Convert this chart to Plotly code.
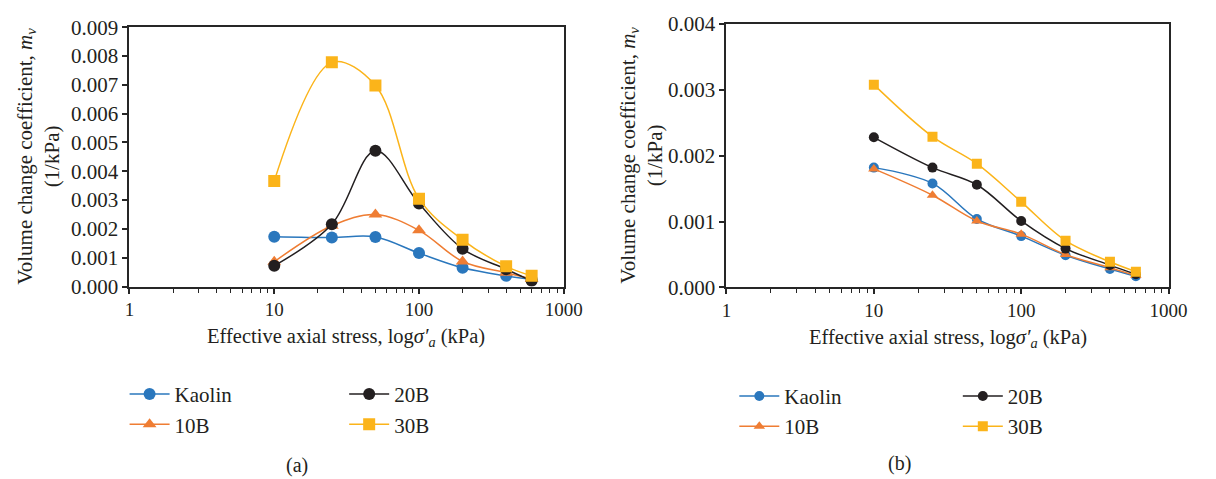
import plotly.graph_objects as go

stress = [10, 25, 50, 100, 200, 400, 600]
series_names = ["Kaolin", "10B", "20B", "30B"]

# Panel (a)
a_kaolin = [0.00173, 0.00170, 0.00172, 0.00116, 0.00065, 0.00037, 0.00025]
a_10b = [0.00086, 0.00211, 0.00250, 0.00195, 0.00087, 0.00048, 0.00026]
a_20b = [0.00072, 0.00216, 0.00471, 0.00288, 0.00131, 0.00060, 0.00020]
a_30b = [0.00366, 0.00778, 0.00698, 0.00305, 0.00162, 0.00070, 0.00037]

# Panel (b)
b_kaolin = [0.00182, 0.00158, 0.00104, 0.00078, 0.00049, 0.00028, 0.00017]
b_10b = [0.00180, 0.00140, 0.00101, 0.00081, 0.00050, 0.00030, 0.00018]
b_20b = [0.00228, 0.00182, 0.00156, 0.00101, 0.00059, 0.00034, 0.00020]
b_30b = [0.00308, 0.00229, 0.00188, 0.00130, 0.00071, 0.00039, 0.00024]

x_ticks = [1, 10, 100, 1000]
a_yticks = [0.000, 0.001, 0.002, 0.003, 0.004, 0.005, 0.006, 0.007, 0.008, 0.009]
b_yticks = [0.000, 0.001, 0.002, 0.003, 0.004]

colors = ["#2a77bd", "#ef7d33", "#231f20", "#fbb41a"]
symbols = ["circle", "triangle-up", "circle", "square"]

FONT = "Liberation Serif"
AX = "#262626"
TXT = "#231f20"

fig = go.Figure()

panels = [
    ("x", "y", [a_kaolin, a_10b, a_20b, a_30b], 12, ["legend", "legend", "legend2", "legend2"]),
    ("x2", "y2", [b_kaolin, b_10b, b_20b, b_30b], 10, ["legend3", "legend3", "legend4", "legend4"]),
]
for xa, ya, data, msize, legs in panels:
    for name, vals, col, sym, leg in zip(series_names, data, colors, symbols, legs):
        fig.add_trace(go.Scatter(
            x=stress, y=vals, name=name, mode="lines+markers",
            line=dict(color=col, width=1.5, shape="spline", smoothing=1.0),
            marker=dict(color=col, symbol=sym, size=msize),
            xaxis=xa, yaxis=ya, legend=leg,
        ))

W, H = 1216, 479

def xdom(l, r):
    return [l / W, r / W]

def ydom(t, b):
    return [1 - b / H, 1 - t / H]

xcommon = dict(
    type="log", range=[0, 3], tickvals=x_ticks, ticktext=[str(v) for v in x_ticks],
    showline=True, linecolor=AX, linewidth=2, mirror=True,
    ticks="outside", ticklen=5, tickwidth=1.5, tickcolor=AX,
    minor=dict(ticks="outside", ticklen=4, tickwidth=1.2, tickcolor=AX, dtick="D1"),
    showgrid=False, zeroline=False,
    tickfont=dict(family=FONT, size=19, color=TXT),
)
ycommon = dict(
    showline=True, linecolor=AX, linewidth=2, mirror=True,
    ticks="outside", ticklen=5, tickwidth=1.5, tickcolor=AX,
    showgrid=False, zeroline=False, tickformat=".3f",
    tickfont=dict(family=FONT, size=21, color=TXT),
)

fig.update_layout(
    width=W, height=H, margin=dict(l=0, r=0, t=0, b=0),
    paper_bgcolor="white", plot_bgcolor="white",
    font=dict(family=FONT, color=TXT),
    xaxis=dict(domain=xdom(127, 570), anchor="y", **xcommon),
    yaxis=dict(domain=ydom(16, 289), anchor="x", range=[0, 0.009], tickvals=a_yticks, **ycommon),
    xaxis2=dict(domain=xdom(736, 1187), anchor="y2", **xcommon),
    yaxis2=dict(domain=ydom(12.7, 290), anchor="x2", range=[0, 0.004], tickvals=b_yticks, **ycommon),
)

legfont = dict(family=FONT, size=21, color=TXT)
for key, lx, ly in [("legend", 122, 381), ("legend2", 346, 381), ("legend3", 744, 383), ("legend4", 972, 383)]:
    fig.update_layout(**{key: dict(
        x=lx / W, y=1 - ly / H, xanchor="left", yanchor="top",
        orientation="v", font=legfont, bgcolor="rgba(0,0,0,0)",
        tracegroupgap=0, itemwidth=40,
    )})

ann = []
ytitle = "Volume change coefficient, <i>m</i><sub><i>v</i></sub><br>(1/kPa)"
xtitle = "Effective axial stress, log<i>σ′</i><sub><i>a</i></sub> (kPa)"

def add_ann(x, y, text, size, angle=0):
    ann.append(dict(x=x / W, y=1 - y / H, text=text, textangle=angle, showarrow=False,
                    xref="paper", yref="paper", xanchor="center", yanchor="middle",
                    font=dict(family=FONT, size=size, color=TXT)))

add_ann(34, 152, ytitle, 21, -90)
add_ann(649, 151, ytitle, 21, -90)
add_ann(348, 343, xtitle, 20.5)
add_ann(962, 344, xtitle, 20.5)
add_ann(298, 477, "(a)", 20)
add_ann(912, 475, "(b)", 20)
fig.update_layout(annotations=ann)

fig.write_html("out.html")
